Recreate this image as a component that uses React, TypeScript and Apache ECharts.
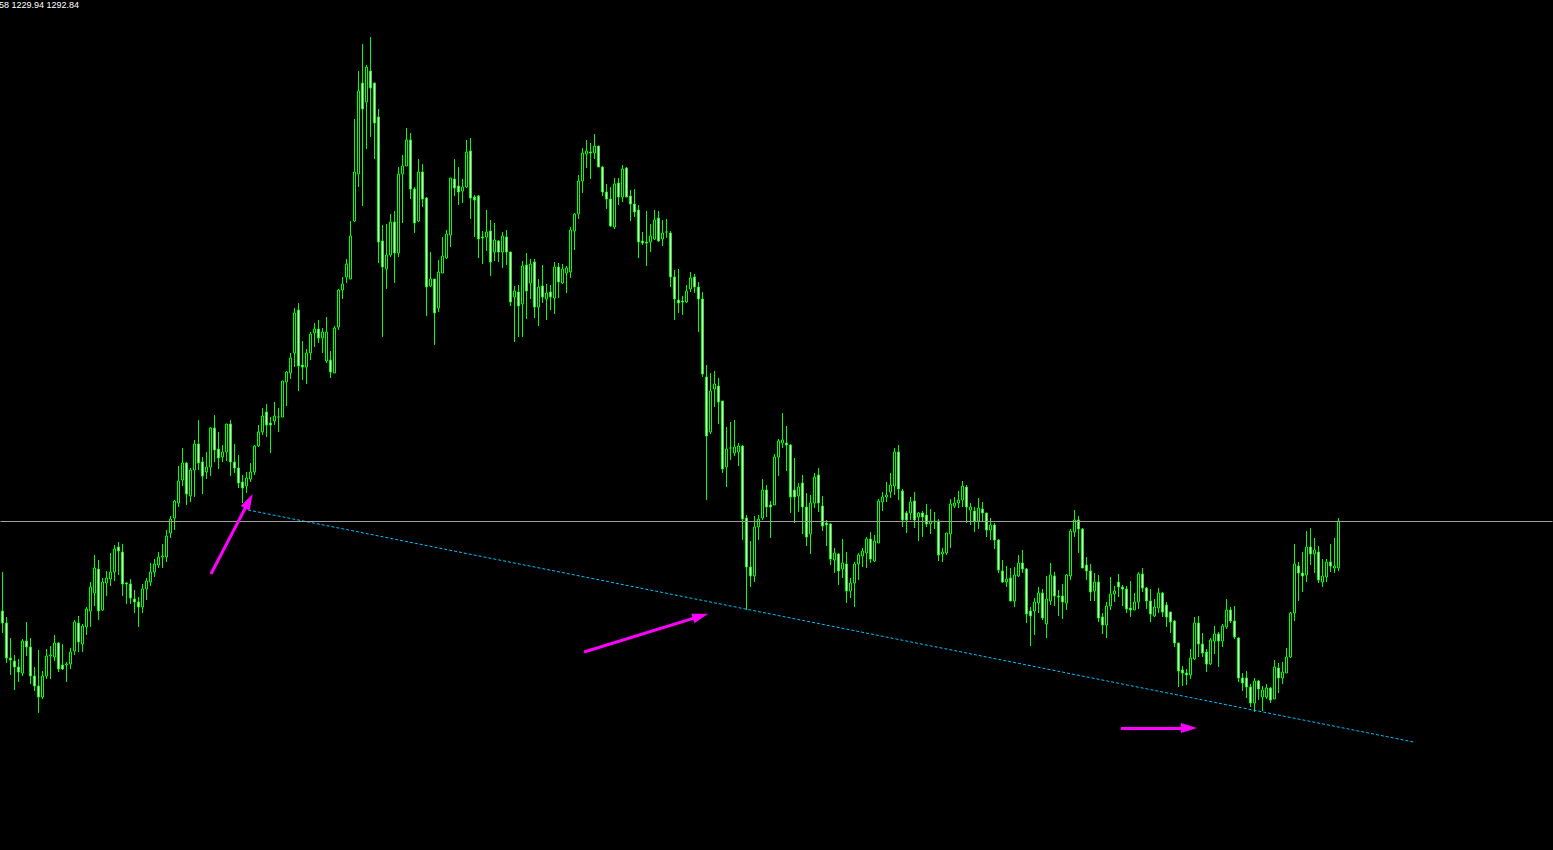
import React, { useEffect, useRef } from "react";
import * as echarts from "echarts";

// Candle values (price units), one entry per bar, oldest first
const opens = [
  239, 227, 192, 189, 183, 177, 209, 203, 174, 164, 153, 174, 194, 193, 207, 185, 185, 186, 199, 227,
  206, 223, 239, 257, 281, 240, 267, 271, 278, 303, 298, 267, 266, 251, 248, 243, 261, 268, 278, 285,
  293, 293, 317, 332, 347, 370, 387, 354, 380, 406, 388, 378, 383, 422, 401, 393, 398, 426, 388, 382,
  368, 364, 371, 378, 404, 418, 438, 427, 429, 433, 433, 468, 477, 497, 540, 485, 483, 497, 517, 521,
  512, 489, 490, 477, 523, 560, 573, 571, 629, 676, 767, 748, 779, 767, 733, 609, 581, 595, 628, 597,
  676, 684, 710, 661, 629, 678, 652, 564, 571, 542, 577, 592, 615, 671, 664, 659, 663, 699, 653, 654,
  613, 613, 619, 598, 609, 598, 613, 598, 553, 558, 546, 585, 567, 588, 543, 564, 551, 558, 552, 583,
  567, 577, 578, 619, 636, 669, 696, 698, 697, 704, 683, 658, 651, 623, 667, 653, 682, 654, 646, 640,
  609, 608, 608, 611, 632, 611, 618, 617, 573, 550, 549, 548, 561, 573, 563, 551, 473, 418, 461, 464,
  449, 383, 402, 397, 398, 404, 332, 283, 274, 323, 332, 360, 345, 345, 393, 407, 407, 405, 360, 354,
  367, 343, 316, 347, 375, 344, 327, 326, 290, 296, 281, 286, 259, 267, 286, 294, 297, 311, 289, 307,
  348, 353, 358, 364, 398, 359, 337, 337, 349, 333, 337, 335, 326, 329, 329, 296, 297, 316, 344, 347,
  350, 363, 340, 339, 329, 341, 337, 320, 325, 310, 279, 268, 272, 249, 274, 287, 281, 239, 239, 247,
  257, 226, 249, 274, 254, 254, 247, 274, 318, 330, 321, 285, 279, 259, 268, 233, 225, 244, 256, 268,
  263, 261, 242, 240, 248, 276, 262, 249, 234, 242, 257, 245, 238, 229, 207, 180, 177, 175, 191, 227,
  206, 198, 186, 209, 216, 209, 223, 240, 229, 212, 172, 172, 163, 147, 169, 153, 153, 162, 151, 182,
  172, 177, 193, 237, 284, 277, 275, 303, 296, 298, 268, 273, 288, 282, 282,
];
const highs = [
  278, 233, 212, 195, 191, 211, 228, 212, 183, 200, 179, 201, 204, 215, 208, 206, 188, 202, 230, 234,
  226, 243, 268, 295, 290, 272, 279, 297, 305, 308, 306, 268, 271, 260, 253, 266, 272, 287, 291, 298,
  306, 320, 334, 350, 384, 402, 388, 382, 410, 430, 393, 398, 423, 435, 418, 405, 426, 430, 406, 395,
  375, 378, 387, 405, 425, 442, 446, 433, 448, 442, 469, 479, 497, 542, 547, 509, 501, 518, 527, 530,
  522, 533, 499, 524, 561, 573, 591, 629, 731, 779, 806, 785, 813, 767, 741, 625, 626, 636, 639, 683,
  695, 722, 717, 663, 691, 686, 653, 598, 571, 590, 613, 620, 672, 691, 683, 671, 710, 712, 655, 655,
  619, 640, 630, 627, 610, 618, 620, 598, 564, 565, 589, 597, 591, 591, 571, 585, 566, 565, 588, 587,
  586, 584, 623, 637, 675, 702, 710, 707, 716, 704, 684, 666, 663, 672, 672, 685, 683, 660, 661, 645,
  618, 639, 626, 640, 639, 630, 631, 619, 580, 581, 554, 565, 578, 576, 568, 558, 485, 477, 479, 472,
  449, 423, 428, 430, 407, 405, 335, 309, 334, 335, 371, 365, 349, 396, 411, 437, 424, 406, 392, 367,
  375, 357, 355, 377, 382, 354, 330, 327, 302, 297, 311, 298, 272, 288, 297, 302, 313, 318, 315, 351,
  358, 368, 377, 402, 405, 361, 339, 353, 358, 338, 339, 346, 341, 338, 331, 302, 317, 351, 353, 359,
  369, 365, 347, 343, 352, 348, 337, 332, 327, 311, 290, 284, 282, 283, 295, 300, 282, 243, 252, 263,
  261, 274, 287, 278, 260, 266, 276, 321, 340, 334, 322, 293, 286, 277, 275, 237, 248, 273, 264, 276,
  265, 264, 269, 257, 278, 282, 263, 261, 251, 262, 258, 248, 238, 230, 207, 184, 181, 201, 233, 234,
  217, 201, 212, 224, 218, 226, 251, 243, 244, 213, 177, 179, 166, 172, 170, 164, 166, 163, 190, 187,
  188, 202, 238, 306, 288, 298, 319, 322, 312, 304, 291, 291, 306, 312, 332,
];
const lows = [
  217, 187, 175, 160, 168, 174, 194, 166, 159, 137, 151, 171, 171, 189, 178, 180, 168, 181, 195, 198,
  198, 215, 223, 244, 230, 239, 254, 264, 269, 275, 254, 246, 246, 237, 223, 237, 250, 264, 273, 282,
  282, 288, 312, 320, 343, 364, 345, 348, 353, 380, 356, 371, 374, 388, 381, 388, 389, 374, 377, 362,
  347, 357, 368, 375, 403, 415, 413, 397, 425, 418, 433, 444, 471, 483, 459, 470, 466, 490, 503, 507,
  497, 487, 472, 477, 520, 551, 567, 571, 628, 663, 644, 701, 713, 691, 587, 513, 561, 593, 567, 593,
  627, 684, 651, 617, 628, 643, 534, 563, 505, 538, 577, 591, 603, 654, 645, 647, 662, 631, 613, 592,
  586, 599, 574, 589, 588, 582, 585, 544, 508, 513, 513, 531, 551, 532, 524, 547, 530, 540, 536, 552,
  566, 557, 572, 600, 631, 657, 682, 671, 691, 683, 654, 641, 623, 621, 645, 648, 653, 629, 633, 592,
  605, 584, 598, 610, 608, 604, 612, 563, 530, 537, 535, 547, 558, 557, 518, 473, 350, 416, 443, 426,
  377, 363, 390, 394, 384, 310, 240, 263, 268, 310, 330, 333, 312, 345, 374, 402, 379, 337, 327, 338,
  316, 304, 296, 342, 338, 319, 304, 285, 277, 265, 272, 247, 252, 243, 270, 283, 282, 287, 288, 307,
  339, 348, 352, 355, 350, 323, 317, 330, 322, 309, 313, 323, 316, 321, 289, 288, 295, 302, 342, 342,
  343, 327, 325, 318, 321, 328, 313, 310, 301, 277, 267, 263, 249, 243, 273, 277, 227, 204, 215, 237,
  230, 212, 245, 244, 234, 231, 240, 270, 313, 297, 282, 270, 249, 249, 228, 216, 212, 240, 248, 253,
  244, 237, 233, 240, 241, 258, 241, 228, 233, 237, 233, 223, 217, 203, 163, 164, 165, 171, 190, 193,
  193, 178, 185, 196, 183, 203, 221, 227, 211, 168, 159, 152, 143, 138, 150, 139, 151, 147, 151, 157,
  166, 177, 192, 229, 249, 258, 268, 285, 277, 267, 263, 268, 278, 277, 279,
];
const closes = [
  227, 192, 190, 183, 178, 209, 203, 174, 164, 153, 174, 194, 195, 207, 181, 181, 186, 198, 228, 208,
  224, 241, 263, 282, 239, 268, 272, 278, 301, 299, 266, 266, 252, 248, 243, 261, 269, 278, 286, 293,
  294, 314, 331, 349, 369, 387, 356, 380, 406, 387, 374, 383, 422, 400, 392, 398, 426, 388, 382, 367,
  362, 372, 378, 404, 418, 434, 425, 425, 434, 433, 469, 478, 492, 537, 484, 483, 497, 516, 521, 512,
  518, 518, 478, 522, 560, 566, 586, 614, 678, 759, 741, 783, 762, 727, 608, 583, 595, 628, 597, 676,
  684, 710, 661, 627, 678, 651, 563, 571, 537, 578, 594, 616, 672, 662, 658, 663, 698, 652, 650, 611,
  612, 618, 588, 610, 598, 614, 598, 548, 559, 544, 584, 559, 586, 543, 563, 553, 557, 553, 583, 568,
  581, 582, 620, 636, 669, 697, 699, 697, 704, 683, 658, 651, 624, 666, 653, 681, 653, 646, 638, 608,
  607, 607, 614, 630, 609, 617, 618, 573, 551, 547, 548, 559, 572, 563, 551, 476, 414, 459, 466, 448,
  381, 401, 402, 403, 404, 331, 283, 274, 323, 331, 360, 343, 343, 393, 409, 410, 405, 353, 353, 363,
  343, 313, 347, 373, 347, 324, 325, 291, 297, 279, 287, 259, 267, 286, 295, 299, 311, 291, 309, 349,
  353, 355, 365, 398, 361, 330, 330, 348, 330, 337, 333, 326, 329, 328, 295, 298, 317, 346, 347, 350,
  364, 343, 343, 329, 342, 337, 320, 325, 310, 280, 268, 271, 249, 275, 287, 281, 236, 234, 248, 257,
  232, 251, 275, 254, 253, 248, 275, 319, 330, 321, 282, 279, 258, 268, 232, 225, 244, 256, 259, 263,
  261, 241, 240, 248, 276, 262, 249, 236, 243, 257, 238, 233, 228, 207, 179, 177, 175, 192, 227, 206,
  197, 186, 210, 216, 209, 224, 240, 229, 213, 172, 167, 163, 147, 169, 161, 160, 162, 150, 183, 172,
  178, 193, 237, 286, 277, 274, 303, 296, 300, 270, 274, 288, 284, 284, 329,
];

// Chart furniture values
const SLOT_COUNT = 388; // bar slots across the window (last bars are empty, future space)
const bidPrice = 329;
const trendLine = [
  [61.4, 340],
  [352.8, 108],
];
const arrowLines = [
  [[52.1, 276], [61.6, 348.8]],
  [[145.4, 198], [174.5, 233.9]],
  [[279.6, 122], [296.6, 122]],
];
const headerText = "58 1229.94 1292.84";

export default function App() {
  const ref = useRef<HTMLDivElement>(null);

  useEffect(() => {
    if (!ref.current) return;
    const chart = echarts.init(ref.current, undefined, { renderer: "svg" });
    const categories = Array.from({ length: SLOT_COUNT }, (_, i) => String(i));
    const candles = opens.map((o, i) => [o, closes[i], lows[i], highs[i]]);

    chart.setOption({
      animation: false,
      backgroundColor: "#000000",
      title: {
        text: headerText,
        left: -1,
        top: 0,
        padding: 0,
        textStyle: {
          color: "#ffffff",
          fontSize: 9,
          fontWeight: "normal",
          fontFamily: "Liberation Sans",
        },
      },
      grid: { left: 0.5, top: 0, width: 1552, height: 850, containLabel: false },
      xAxis: [
        {
          type: "category",
          data: categories,
          boundaryGap: true,
          show: false,
        },
        {
          type: "value",
          min: -0.5,
          max: SLOT_COUNT - 0.5,
          show: false,
        },
      ],
      yAxis: {
        type: "value",
        min: 0,
        max: 850,
        show: false,
        splitLine: { show: false },
      },
      series: [
        {
          type: "candlestick",
          data: candles,
          barWidth: 2,
          silent: true,
          itemStyle: {
            color: "#000000",
            color0: "#ffffff",
            borderColor: "#00ff00",
            borderColor0: "#00ff00",
            borderColorDoji: "#00ff00",
            borderWidth: 1,
          },
          markLine: {
            silent: true,
            symbol: "none",
            label: { show: false },
            lineStyle: { color: "#a0a0a0", width: 1, type: "solid" },
            data: [{ yAxis: bidPrice }],
          },
        },
        {
          type: "line",
          xAxisIndex: 1,
          data: trendLine,
          symbol: "none",
          silent: true,
          lineStyle: { color: "#00bfff", width: 1, type: [3, 2] },
          markLine: {
            silent: true,
            symbol: ["none", "triangle"],
            symbolSize: [10, 16],
            label: { show: false },
            lineStyle: { color: "#ff00ff", width: 3, type: "solid" },
            itemStyle: { color: "#ff00ff" },
            data: arrowLines.map(([a, b]) => [{ coord: a }, { coord: b }]),
          },
        },
      ],
    });

    return () => chart.dispose();
  }, []);

  return (
    <div
      ref={ref}
      style={{ position: "absolute", left: 0, top: 0, width: 1553, height: 850 }}
    />
  );
}
